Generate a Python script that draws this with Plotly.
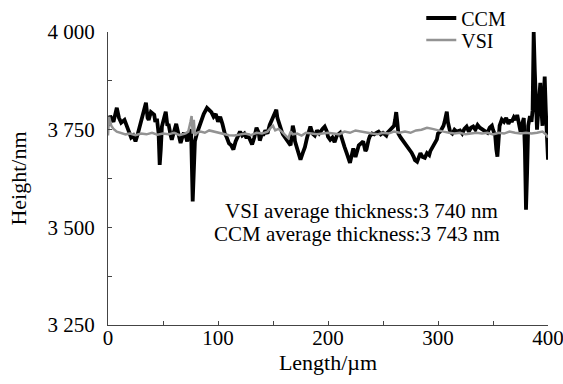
import plotly.graph_objects as go

# CCM profile (x in µm, height in nm)
ccm_x = [0, 2, 5, 8, 10, 12, 15, 17, 19, 21, 23, 25, 27, 30, 32, 34.5, 36, 37, 39, 42, 43, 44.5, 46, 47, 48, 49,
         51, 52.5, 54, 55, 57, 58, 60, 62, 64, 66, 68, 69, 71, 72, 74, 75.5, 77, 78, 79, 81, 83, 85, 87, 90, 92,
         94, 96, 98, 100, 102, 104, 106, 108, 110, 112, 114, 116, 118, 120, 122, 124, 126, 127, 129, 131, 133,
         135, 137, 138, 140, 141, 143, 145, 147, 149, 151, 153, 154, 156, 158, 159, 161, 163, 165, 166, 168, 169,
         170, 172, 174, 175, 177, 179, 181, 183, 184, 186, 188, 190, 192, 195, 197, 199, 200, 202, 204, 206, 208,
         211, 213, 215, 217, 219, 220, 222, 223, 225, 226, 228, 231, 232, 234, 235, 237, 238, 240, 242, 244, 246,
         248, 250, 253, 254, 256, 258, 260, 261, 262, 263, 264, 266, 268, 270, 272, 274, 276, 278, 279, 281, 283,
         284, 286, 288, 290, 292, 293, 295, 297, 299, 300, 302, 304, 305, 306, 308, 309, 311, 313, 315, 317, 320,
         322, 324, 326, 328, 330, 332, 334, 336, 338, 341, 343, 345, 347, 349, 350, 352, 353, 354, 355, 356, 358,
         360, 362, 364, 366, 367, 369, 371, 372, 374, 375, 377, 378, 379, 380, 381, 382, 383.6, 385, 386, 387, 388,
         389, 390, 391, 392, 393, 394, 395, 396, 397, 398, 399, 400]
ccm_y = [3760, 3785, 3770, 3806, 3780, 3768, 3775, 3762, 3745, 3730, 3735, 3720, 3738, 3768, 3790, 3819, 3780, 3775,
         3795, 3788, 3770, 3778, 3740, 3660, 3700, 3758, 3780, 3796, 3760, 3765, 3735, 3724, 3745, 3765, 3740, 3716,
         3735, 3742, 3730, 3720, 3745, 3750, 3566, 3640, 3720, 3742, 3760, 3776, 3790, 3806, 3800, 3795, 3783, 3790,
         3770, 3783, 3765, 3742, 3730, 3715, 3710, 3699, 3720, 3732, 3745, 3735, 3740, 3728, 3738, 3725, 3712, 3730,
         3755, 3742, 3722, 3740, 3735, 3748, 3740, 3762, 3775, 3790, 3801, 3780, 3758, 3745, 3738, 3730, 3724, 3715,
         3710, 3760, 3748, 3720, 3699, 3685, 3673, 3690, 3705, 3730, 3745, 3758, 3740, 3735, 3748, 3740, 3752, 3758,
         3745, 3732, 3724, 3730, 3718, 3735, 3742, 3720, 3706, 3690, 3672, 3665, 3690, 3702, 3680, 3690, 3710, 3717,
         3720, 3695, 3700, 3725, 3733, 3740, 3738, 3742, 3745, 3738, 3742, 3735, 3742, 3748, 3755, 3760, 3775, 3795,
         3770, 3740, 3730, 3722, 3715, 3710, 3700, 3691, 3680, 3672, 3668, 3685, 3690, 3680, 3678, 3690, 3685, 3695,
         3705, 3715, 3725, 3740, 3745, 3755, 3760, 3770, 3796, 3770, 3745, 3740, 3750, 3745, 3748, 3740, 3752, 3758,
         3745, 3755, 3758, 3750, 3762, 3755, 3750, 3745, 3742, 3755, 3760, 3750, 3735, 3700, 3681, 3720, 3760, 3776,
         3770, 3780, 3765, 3775, 3770, 3782, 3775, 3788, 3760, 3745, 3770, 3780, 3700, 3545, 3640, 3760, 3785, 3770,
         3800, 4000, 3900, 3790, 3750, 3790, 3830, 3870, 3800, 3760, 3820, 3886, 3800, 3740, 3673]

# VSI profile
vsi_x = [0, 1, 3, 5, 8, 12, 16, 20, 25, 30, 35, 40, 45, 50, 55, 60, 65, 70, 73, 75, 76, 77, 78, 79, 81, 84, 88, 92,
         96, 100, 105, 110, 115, 120, 125, 130, 135, 140, 145, 148, 150, 152, 155, 158, 160, 162, 164, 166, 168, 172,
         176, 180, 185, 190, 195, 200, 205, 210, 215, 220, 225, 230, 235, 240, 245, 250, 255, 260, 265, 270, 275,
         280, 285, 290, 295, 300, 305, 310, 315, 320, 325, 330, 335, 340, 345, 350, 355, 360, 365, 370, 375, 380,
         385, 390, 395, 398, 400]
vsi_y = [3735, 3783, 3760, 3752, 3745, 3742, 3738, 3740, 3736, 3740, 3738, 3742, 3737, 3740, 3738, 3742, 3736, 3740,
         3745, 3770, 3785, 3740, 3775, 3735, 3742, 3745, 3742, 3748, 3745, 3742, 3738, 3736, 3735, 3738, 3740, 3736,
         3742, 3740, 3745, 3755, 3760, 3748, 3752, 3745, 3740, 3735, 3728, 3745, 3738, 3740, 3735, 3742, 3740, 3738,
         3740, 3742, 3740, 3738, 3745, 3742, 3748, 3745, 3742, 3740, 3738, 3742, 3740, 3745, 3742, 3745, 3742, 3748,
         3750, 3755, 3752, 3748, 3745, 3742, 3740, 3742, 3738, 3740, 3742, 3740, 3742, 3738, 3742, 3740, 3745, 3742,
         3740, 3742, 3740, 3742, 3745, 3738, 3730]

x_tickvals = [0, 100, 200, 300, 400]
x_ticktext = ["0", "100", "200", "300", "400"]
y_tickvals = [3250, 3500, 3750, 4000]
y_ticktext = ["3 250", "3 500", "3 750", "4 000"]
note_lines = ["VSI average thickness:3 740 nm", "CCM average thickness:3 743 nm"]

FONT = "Liberation Serif, Times New Roman, serif"
TXT = "#000"

fig = go.Figure()
fig.add_trace(go.Scatter(x=ccm_x, y=ccm_y, mode="lines", name="CCM", legend="legend",
                         line=dict(color="#000000", width=3.8)))
fig.add_trace(go.Scatter(x=vsi_x, y=vsi_y, mode="lines", name="VSI", legend="legend2",
                         line=dict(color="#939393", width=2.5)))

# two-line note inside the plot
fig.add_annotation(x=0.577, y=3541, xref="paper", yref="y", text=note_lines[0],
                   showarrow=False, xanchor="center", yanchor="middle",
                   font=dict(family=FONT, size=21, color=TXT))
fig.add_annotation(x=0.566, y=3482, xref="paper", yref="y", text=note_lines[1],
                   showarrow=False, xanchor="center", yanchor="middle",
                   font=dict(family=FONT, size=21, color=TXT))

axis_common = dict(showline=True, linecolor="#444", linewidth=1.2, mirror=False, showgrid=False,
                   zeroline=False, ticks="inside", ticklen=4, tickcolor="#444", automargin=False,
                   ticklabeloverflow="allow",
                   tickfont=dict(family=FONT, size=21, color=TXT))

fig.update_xaxes(range=[0, 400], tickvals=x_tickvals, ticktext=x_ticktext,
                 minor=dict(dtick=50, tick0=0, ticks="inside", ticklen=4, tickcolor="#444"),
                 ticklabelstandoff=-6,
                 title=dict(text="Length/µm", font=dict(family=FONT, size=22, color=TXT), standoff=0),
                 **axis_common)
fig.update_yaxes(range=[3250, 4000], tickvals=y_tickvals, ticktext=y_ticktext,
                 minor=dict(dtick=125, tick0=3250, ticks="inside", ticklen=4, tickcolor="#444"),
                 ticklabelstandoff=8,
                 title=dict(text="Height/nm", font=dict(family=FONT, size=22, color=TXT), standoff=14),
                 **axis_common)

leg_common = dict(xanchor="left", yanchor="middle", bgcolor="rgba(0,0,0,0)",
                  font=dict(family=FONT, size=20, color=TXT), tracegroupgap=0, itemwidth=30)
fig.update_layout(
    width=563, height=384,
    margin=dict(l=108, r=15, t=32, b=59, autoexpand=False),
    paper_bgcolor="white", plot_bgcolor="white",
    showlegend=True,
    legend=dict(x=0.712, y=1 + (32 - 18) / 293, **leg_common),
    legend2=dict(x=0.712, y=1 + (32 - 40) / 293, **leg_common),
)

fig.write_html("out.html")
